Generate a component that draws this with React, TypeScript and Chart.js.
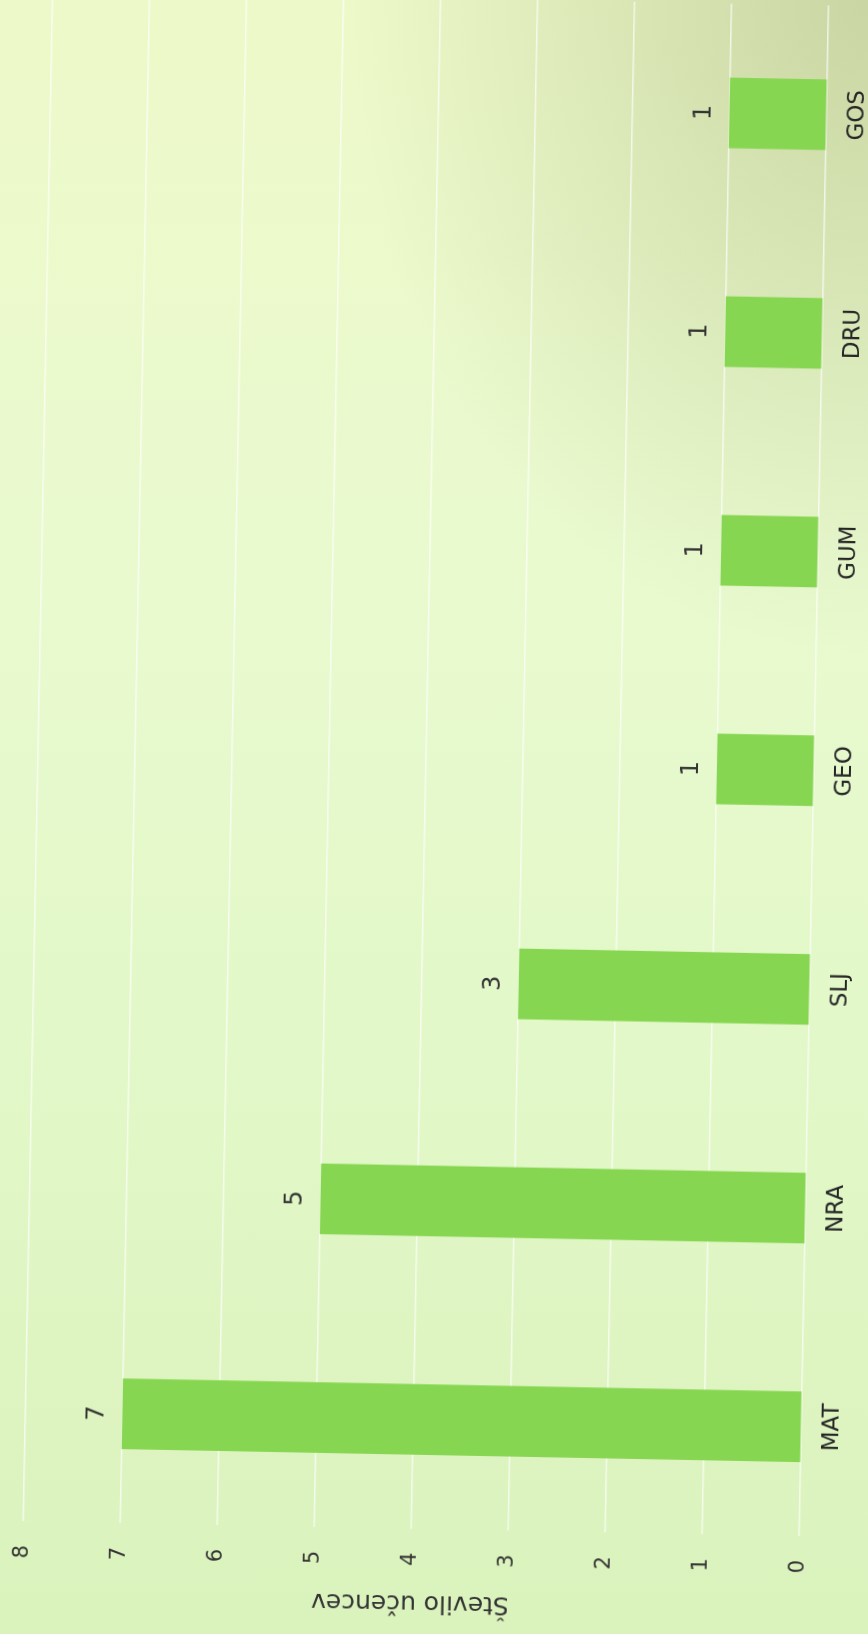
import React, { useEffect, useRef } from "react";
import { Chart, registerables } from "chart.js";

Chart.register(...registerables);

const categories: string[] = ["MAT", "NRA", "SLJ", "GEO", "GUM", "DRU", "GOS"];
const studentCounts: number[] = [7, 5, 3, 1, 1, 1, 1];
const valueAxisMin = 0;
const valueAxisMax = 8;
const valueAxisTitle = "Število učencev";

const FONT = "'DejaVu Sans', sans-serif";
const TEXT = "#333333";

const valueLabelPlugin = {
  id: "valueLabels",
  afterDatasetsDraw(chart: any) {
    const ctx = chart.ctx;
    const meta = chart.getDatasetMeta(0);
    const data = chart.data.datasets[0].data as number[];
    ctx.save();
    ctx.font = `24px ${FONT}`;
    ctx.fillStyle = TEXT;
    ctx.textAlign = "center";
    ctx.textBaseline = "middle";
    meta.data.forEach((bar: any, i: number) => {
      ctx.fillText(String(data[i]), bar.x, bar.y - 25);
    });
    ctx.restore();
  },
};

export default function App() {
  const canvasRef = useRef<HTMLCanvasElement | null>(null);

  useEffect(() => {
    if (!canvasRef.current) return;
    const chart = new Chart(canvasRef.current, {
      type: "bar",
      data: {
        labels: categories,
        datasets: [
          {
            data: studentCounts,
            backgroundColor: "#87d651",
            borderWidth: 0,
            barThickness: 70,
          },
        ],
      },
      options: {
        responsive: false,
        animation: false,
        devicePixelRatio: 1,
        layout: { padding: { left: 0, right: 64, top: 37, bottom: 0 } },
        plugins: {
          legend: { display: false },
          tooltip: { enabled: false },
          title: { display: false },
        },
        scales: {
          x: {
            grid: { display: false, drawTicks: false },
            border: { display: false },
            ticks: {
              color: "#262626",
              font: { family: FONT, size: 23 },
              padding: 17,
              maxRotation: 0,
              autoSkip: false,
            },
            afterFit(scale: any) {
              scale.height = 87;
            },
          },
          y: {
            min: valueAxisMin,
            max: valueAxisMax,
            grid: {
              color: "rgba(255,255,255,0.7)",
              lineWidth: 1.5,
              drawTicks: false,
            },
            border: { display: false },
            ticks: {
              stepSize: 1,
              color: TEXT,
              font: { family: FONT, size: 21 },
              padding: 24,
            },
            title: {
              display: true,
              text: valueAxisTitle,
              color: TEXT,
              font: { family: FONT, size: 25 },
              padding: { top: 16, bottom: 0 },
            },
            afterFit(scale: any) {
              scale.width = 105;
            },
          },
        },
      },
      plugins: [valueLabelPlugin],
    });
    return () => chart.destroy();
  }, []);

  return (
    <div
      style={{
        position: "fixed",
        left: 0,
        top: 0,
        width: 868,
        height: 1634,
        overflow: "hidden",
        background:
          "radial-gradient(ellipse 60% 40% at 100% 0%, rgba(165,180,125,0.5) 0%, rgba(165,180,125,0) 100%), linear-gradient(180deg, #eef9c9 0%, #e9facf 35%, #e2f8c8 65%, #daf2bc 100%)",
      }}
    >
      <div
        style={{
          position: "absolute",
          left: 0,
          top: 0,
          width: 868,
          height: 1634,
          transformOrigin: "434px 817px",
          transform: "rotate(1.1deg)",
        }}
      >
        <div
          style={{
            position: "absolute",
            left: 0,
            top: 0,
            width: 1700,
            height: 900,
            transformOrigin: "0 0",
            transform: "translate(0px, 1634px) rotate(-90deg)",
          }}
        >
          <canvas ref={canvasRef} width={1700} height={900} style={{ display: "block" }} />
        </div>
      </div>
    </div>
  );
}
